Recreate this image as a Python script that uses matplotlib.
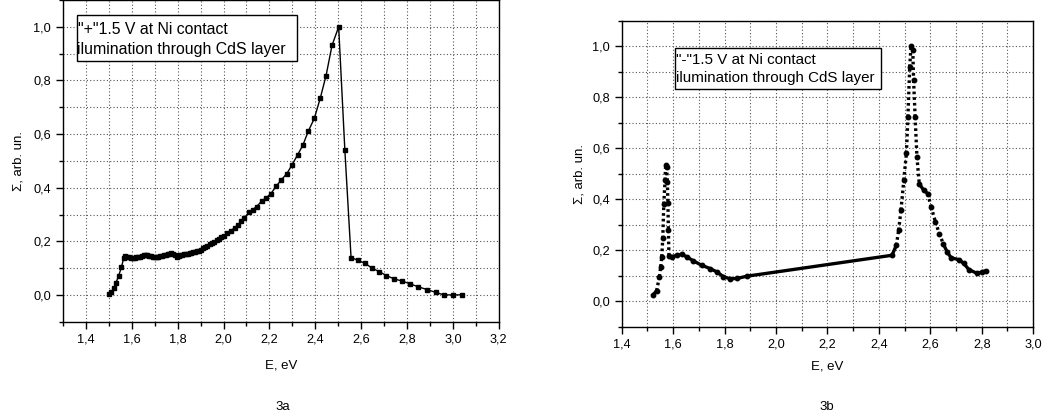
import matplotlib
matplotlib.use("Agg")
import matplotlib.pyplot as plt
from matplotlib.ticker import MultipleLocator, FuncFormatter
from matplotlib.patches import Rectangle

plt.rcParams["font.family"] = ["Liberation Sans", "DejaVu Sans"]

# panel 3a: "+"1.5 V
e_a = [1.500, 1.511, 1.521, 1.531, 1.542, 1.555, 1.565, 1.572, 1.580, 1.588,
       1.596, 1.604, 1.612, 1.620, 1.628, 1.636, 1.644, 1.652, 1.660, 1.668,
       1.676, 1.684, 1.692, 1.700, 1.708, 1.716, 1.724, 1.732, 1.740, 1.748,
       1.756, 1.764, 1.772, 1.780, 1.788, 1.796, 1.804, 1.812, 1.820, 1.828,
       1.836, 1.844, 1.852, 1.860, 1.868, 1.876, 1.884, 1.892, 1.900, 1.910,
       1.920, 1.930, 1.940, 1.950, 1.960, 1.970, 1.980, 1.990, 2.000, 2.016,
       2.032, 2.048, 2.064, 2.077, 2.090, 2.112, 2.128, 2.144, 2.166, 2.185,
       2.206, 2.229, 2.251, 2.276, 2.299, 2.323, 2.346, 2.369, 2.396, 2.422,
       2.447, 2.473, 2.502, 2.529, 2.556, 2.586, 2.616, 2.649, 2.678, 2.710,
       2.743, 2.776, 2.811, 2.849, 2.887, 2.926, 2.961, 2.999, 3.040]
s_a = [0.006, 0.012, 0.025, 0.046, 0.071, 0.104, 0.140, 0.146, 0.142, 0.141,
       0.139, 0.139, 0.140, 0.141, 0.143, 0.144, 0.146, 0.148, 0.149, 0.148,
       0.146, 0.145, 0.144, 0.143, 0.143, 0.144, 0.145, 0.147, 0.149, 0.151,
       0.153, 0.155, 0.156, 0.152, 0.148, 0.144, 0.146, 0.149, 0.151, 0.153,
       0.154, 0.155, 0.156, 0.158, 0.159, 0.161, 0.163, 0.166, 0.169, 0.174,
       0.179, 0.184, 0.189, 0.194, 0.199, 0.205, 0.210, 0.215, 0.221, 0.230,
       0.240, 0.251, 0.263, 0.275, 0.288, 0.309, 0.319, 0.330, 0.350, 0.362,
       0.378, 0.405, 0.429, 0.453, 0.486, 0.523, 0.559, 0.610, 0.659, 0.735,
       0.818, 0.931, 1.000, 0.540, 0.140, 0.130, 0.119, 0.100, 0.088, 0.073,
       0.061, 0.053, 0.043, 0.031, 0.021, 0.010, 0.001, 0.001, 0.001]

# panel 3b: "-"1.5 V
e_b = [1.523, 1.536, 1.547, 1.552, 1.556, 1.560, 1.564, 1.569, 1.571, 1.575,
       1.578, 1.580, 1.582, 1.584, 1.595, 1.614, 1.634, 1.653, 1.679, 1.711,
       1.744, 1.770, 1.796, 1.822, 1.848, 1.887, 2.451,
       2.468, 2.477, 2.486, 2.497, 2.507, 2.513, 2.520, 2.525, 2.532, 2.535,
       2.541, 2.548, 2.557, 2.574, 2.590, 2.603, 2.620, 2.635, 2.650, 2.665,
       2.681, 2.711, 2.730, 2.750, 2.782, 2.802, 2.815]
s_b = [0.026, 0.042, 0.097, 0.136, 0.175, 0.247, 0.381, 0.475, 0.534, 0.527,
       0.469, 0.384, 0.279, 0.178, 0.175, 0.181, 0.185, 0.175, 0.159, 0.142,
       0.129, 0.116, 0.097, 0.089, 0.090, 0.099, 0.181,
       0.220, 0.279, 0.358, 0.475, 0.580, 0.723, 0.919, 1.000, 0.984, 0.867,
       0.723, 0.567, 0.462, 0.436, 0.423, 0.371, 0.312, 0.266, 0.227, 0.195,
       0.171, 0.164, 0.149, 0.125, 0.110, 0.116, 0.120]

comma = FuncFormatter(lambda v, _: f"{v:.1f}".replace(".", ","))

fig = plt.figure(figsize=(10.5, 4.16), dpi=100)
ax1 = fig.add_axes([0.060, 0.226, 0.415, 0.774])
ax2 = fig.add_axes([0.592, 0.214, 0.392, 0.736])


def style(ax, xlim):
    ax.set_xlim(*xlim)
    ax.set_ylim(-0.1, 1.1)
    ax.xaxis.set_major_locator(MultipleLocator(0.2))
    ax.xaxis.set_minor_locator(MultipleLocator(0.1))
    ax.yaxis.set_major_locator(MultipleLocator(0.2))
    ax.yaxis.set_minor_locator(MultipleLocator(0.1))
    ax.xaxis.set_major_formatter(comma)
    ax.yaxis.set_major_formatter(comma)
    ax.grid(True, which="both", linestyle=(0, (1, 2)), color="#555555", lw=0.8)
    ax.tick_params(which="both", direction="out", top=False, right=False,
                   labelsize=9.2, width=1)
    ax.tick_params(which="major", length=5)
    ax.tick_params(which="minor", length=3)
    for sp in ax.spines.values():
        sp.set_linewidth(1.0)
    ax.set_axisbelow(True)


style(ax1, (1.3, 3.2))
style(ax2, (1.4, 3.0))

ax1.plot(e_a, s_a, color="black", lw=1.0, marker="s", ms=3.2)

# 3b: dotted where the curve is steep, solid where it is flat
for i in range(len(e_b) - 1):
    slope = abs((s_b[i + 1] - s_b[i]) / (e_b[i + 1] - e_b[i]))
    ls = (0, (0.8, 0.9)) if slope > 2.5 else "-"
    ax2.plot(e_b[i:i + 2], s_b[i:i + 2], color="black", lw=2.4,
             linestyle=ls, solid_capstyle="butt")
ax2.plot(e_b, s_b, color="black", lw=0, marker="o", ms=3.2)

for ax in (ax1, ax2):
    ax.set_xlabel("E, eV", fontsize=9.5)
    ax.set_ylabel("\u03a3, arb. un.", fontsize=9.5)

ax1.yaxis.set_label_coords(-0.089, 0.5)
ax2.yaxis.set_label_coords(-0.088, 0.5)
ax1.xaxis.set_label_coords(0.5, -0.115)
ax2.xaxis.set_label_coords(0.5, -0.111)
fig.text(283 / 1050, 1 - 407 / 416, "3a", ha="center", va="center", fontsize=9.5)
fig.text(827 / 1050, 1 - 407 / 416, "3b", ha="center", va="center", fontsize=9.5)

# annotation boxes
ax1.add_patch(Rectangle((0.031, 0.812), 0.505, 0.141, transform=ax1.transAxes,
                        facecolor="white", edgecolor="black", lw=1.0, zorder=5))
ax1.text(0.035, 0.909, "\"+\"1.5 V at Ni contact", transform=ax1.transAxes,
         fontsize=11.4, va="center", zorder=6)
ax1.text(0.033, 0.847, "ilumination through CdS layer", transform=ax1.transAxes,
         fontsize=11.4, va="center", zorder=6)

ax2.add_patch(Rectangle((0.129, 0.777), 0.501, 0.134, transform=ax2.transAxes,
                        facecolor="white", edgecolor="black", lw=1.0, zorder=5))
ax2.text(0.131, 0.872, "\"-\"1.5 V at Ni contact", transform=ax2.transAxes,
         fontsize=10.9, va="center", zorder=6)
ax2.text(0.131, 0.814, "ilumination through CdS layer", transform=ax2.transAxes,
         fontsize=10.9, va="center", zorder=6)

fig.savefig("out.png", dpi=100)
